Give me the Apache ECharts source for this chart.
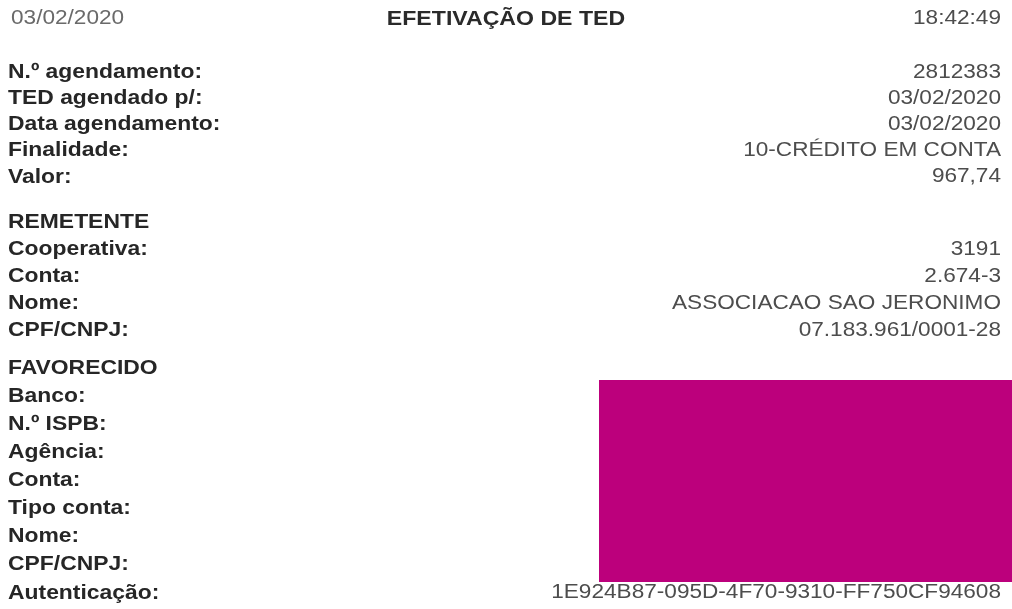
<!DOCTYPE html>
<html><head><meta charset="utf-8">
<script src="https://cdn.jsdelivr.net/npm/echarts@6/dist/echarts.min.js"></script>
<style>html,body{margin:0;padding:0;background:#fff}#c{width:1012px;height:609px}</style>
</head><body><div id="c"></div>
<script>
// ---- data ----
const headerDate = '03/02/2020';
const headerTitle = 'EFETIVAÇÃO DE TED';
const headerTime = '18:42:49';

const group1Labels = ['N.º agendamento:', 'TED agendado p/:', 'Data agendamento:', 'Finalidade:', 'Valor:'];
const group1Values = ['2812383', '03/02/2020', '03/02/2020', '10-CRÉDITO EM CONTA', '967,74'];

const group2Labels = ['REMETENTE', 'Cooperativa:', 'Conta:', 'Nome:', 'CPF/CNPJ:'];
const group2Values = ['', '3191', '2.674-3', 'ASSOCIACAO SAO JERONIMO', '07.183.961/0001-28'];

const group3Labels = ['FAVORECIDO', 'Banco:', 'N.º ISPB:', 'Agência:', 'Conta:', 'Tipo conta:', 'Nome:', 'CPF/CNPJ:', 'Autenticação:'];
const group3Values = ['', '', '', '', '', '', '', '', '1E924B87-095D-4F70-9310-FF750CF94608'];

// ---- layout ----
const groups = [
  {labels: group1Labels, values: group1Values, top: 72, step: 26.2},
  {labels: group2Labels, values: group2Values, top: 222, step: 27},
  {labels: group3Labels, values: group3Values, top: 368, step: 28.1}
];
const leftX = 8, rightX = 1001;
const labelStyle = {fontFamily: 'Liberation Sans', fontWeight: 'bold', fontSize: 21, fill: '#262626'};
const valueStyle = {fontFamily: 'Liberation Sans', fontWeight: 'normal', fontSize: 20, fill: '#4d4d4d'};
const labelScale = 1.09, valueScale = 1.13;

const elements = [];
// redaction box
elements.push({type: 'rect', shape: {x: 599, y: 380, width: 413, height: 202}, style: {fill: '#bc007c'}, z: 1});

function txt(text, x, y, style, align, sx) {
  return {type: 'text', x: x, y: y, scaleX: sx, z: 2,
    style: Object.assign({}, style, {text: text, x: 0, y: 0, align: align, verticalAlign: 'middle'})};
}
// header
elements.push(txt(headerDate, leftX + 3, 18, Object.assign({}, valueStyle, {fill: '#6a6a6a'}), 'left', valueScale));
elements.push(txt(headerTitle, 506, 19, Object.assign({}, labelStyle, {fill: '#2a2a2a'}), 'center', 1.1));
elements.push(txt(headerTime, rightX, 18, valueStyle, 'right', valueScale));

groups.forEach(g => {
  g.labels.forEach((lab, i) => {
    const y = g.top + i * g.step;
    elements.push(txt(lab, leftX, y, labelStyle, 'left', labelScale));
    if (g.values[i]) elements.push(txt(g.values[i], rightX, y, valueStyle, 'right', valueScale));
  });
});

const chart = echarts.init(document.getElementById('c'));
chart.setOption({backgroundColor: '#fff', animation: false, graphic: {elements: elements}});
</script></body></html>
